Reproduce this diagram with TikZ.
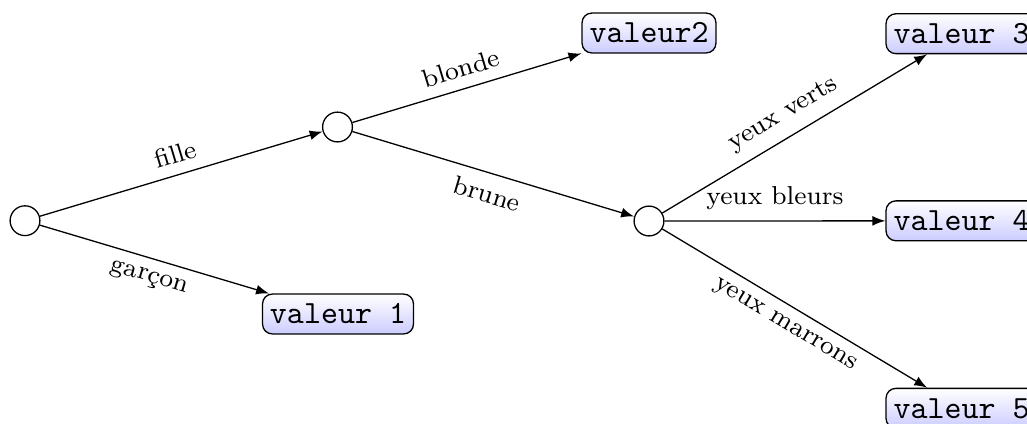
\documentclass[tikz,border=0pt]{standalone}
\usetikzlibrary{arrows}
\begin{document}
\begin{tikzpicture}[x=0.3088pt,y=-0.3088pt]
\tikzset{
  leaf/.style={draw, rounded corners=3pt, top color=white, bottom color=blue!20,
    font=\ttfamily, inner xsep=2.3pt, inner ysep=0pt, minimum height=12.3pt},
  chance/.style={draw, circle, minimum size=9.2pt, inner sep=0pt, fill=white},
  arc/.style={-latex},
  lab/.style={font=\footnotesize, midway, sloped}
}
\useasboundingbox (0,0) rectangle (1027,423);
\clip (0,0) rectangle (1027,423);
\node[chance] (root) at (25,220.7) {};
\node[chance] (n1) at (337.5,127) {};
\node[chance] (n2) at (649,221) {};
\node[leaf] (v1) at (338,314) {valeur 1};
\node[leaf] (v2) at (649,33) {valeur2};
\node[leaf] (v3) at (961.5,33.7) {valeur 3};
\node[leaf] (v4) at (961.5,220.8) {valeur 4};
\node[leaf] (v5) at (961.5,408.3) {valeur 5};
\draw[arc] (root) -- node[lab, above]{fille} (n1);
\draw[arc] (root) -- node[lab, below]{garçon} (v1);
\draw[arc] (n1) -- node[lab, above]{blonde} (v2);
\draw[arc] (n1) -- node[lab, below]{brune} (n2);
\draw[arc] (n2) -- node[lab, above]{yeux verts} (v3);
\draw[arc] (n2) -- node[lab, above]{yeux bleurs} (v4);
\draw[arc] (n2) -- node[lab, below]{yeux marrons} (v5);
\end{tikzpicture}
\end{document}
